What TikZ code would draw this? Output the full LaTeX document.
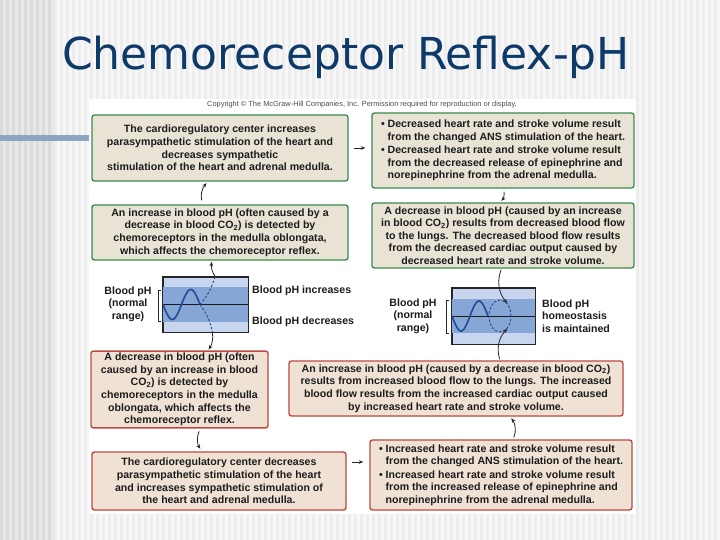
\documentclass[tikz,border=0pt]{standalone}
\usepackage{fontspec}
\setmainfont{Liberation Sans}
\newfontfamily\titlefont{DejaVu Sans}
\usepackage{tikz}
\usetikzlibrary{arrows.meta,shapes.geometric}
\usepackage{xcolor}
\definecolor{titleblue}{HTML}{0D3A68}
\definecolor{barblue}{HTML}{8EA5C2}
\definecolor{boxgreen}{HTML}{3D8B4F}
\definecolor{boxtan}{HTML}{E8E3D5}
\definecolor{boxred}{HTML}{BA4A42}
\definecolor{boxpink}{HTML}{EFE2D5}
\definecolor{inktext}{HTML}{1C1C1C}
\definecolor{phlight}{HTML}{C7D6EE}
\definecolor{phband}{HTML}{86A6D6}
\definecolor{phdeep}{HTML}{557CBB}
\definecolor{phwave}{HTML}{1E4C94}
\newcommand{\boxfont}{\fontsize{10.6}{12.6}\selectfont\bfseries}
\tikzset{
  greenbox/.style={draw=boxgreen,fill=boxtan,line width=1.4pt,rounded corners=2.5pt,align=center,
    font=\boxfont,text=inktext,inner sep=2pt},
  redbox/.style={greenbox,draw=boxred,fill=boxpink},
  listbox/.style={greenbox,align=left},
  graphbox/.style={draw=black!85,line width=0.9pt,fill=phlight,inner sep=0pt},
  graphlabel/.style={font=\boxfont,text=inktext,inner sep=0pt},
  flow/.style={-{Stealth[length=4.5pt,width=3.6pt]},draw=black!85,line width=0.8pt},
  wave/.style={draw=phwave,line width=1.6pt},
  phdash/.style={draw=phwave,line width=0.9pt,dash pattern=on 2.4pt off 1.8pt},
  midline/.style={draw=black!90,line width=1pt},
  normbracket/.style={draw=black!85,line width=0.8pt}
}

\begin{document}
\begin{tikzpicture}[x=1pt,y=-1pt]
        \useasboundingbox (0,0) rectangle (720,540);
        \fill[black!3] (0,0) rectangle (720,540);
        \fill[black!9] (0,0) rectangle (54,540);
        \foreach \sx in {0,6,...,714} {\fill[black!7] (\sx,0) rectangle +(3,540);}
        \foreach \sx in {0,6,...,48} {\fill[black!14] (\sx,0) rectangle +(3,540);}
        \fill[barblue] (0,135) rectangle (89,141);
        \fill[white] (89,99) rectangle (636,514);
        \node[font=\titlefont\fontsize{44}{44}\selectfont,text=titleblue,anchor=base west,inner sep=0pt] (title) at (62,70) {Chemoreceptor Reflex-pH};
        \node[font=\fontsize{7.4}{8}\selectfont,text=black!70,inner sep=0pt] (copyright) at (362,105) {Copyright © The McGraw-Hill Companies, Inc. Permission required for reproduction or display.};
        \node[greenbox,minimum width=256pt,minimum height=66pt] (cardinc) at (220,148) {The cardioregulatory center increases\\parasympathetic stimulation of the heart and\\decreases sympathetic\\stimulation of the heart and adrenal medulla.};
        \node[listbox,minimum width=262pt,minimum height=75pt] (ratedec) at (503,150.5) {\textbullet\ Decreased heart rate and stroke volume result\\\hphantom{\textbullet\ }from the changed ANS stimulation of the heart.\\[1pt]\textbullet\ Decreased heart rate and stroke volume result\\\hphantom{\textbullet\ }from the decreased release of epinephrine and\\\hphantom{\textbullet\ }norepinephrine from the adrenal medulla.};
        \node[greenbox,minimum width=256pt,minimum height=55pt] (sensehigh) at (220,232.5) {An increase in blood pH (often caused by a\\decrease in blood CO\textsubscript{2}) is detected by\\chemoreceptors in the medulla oblongata,\\which affects the chemoreceptor reflex.};
        \node[greenbox,minimum width=262pt,minimum height=65pt] (phfall) at (503,235.5) {A decrease in blood pH (caused by an increase\\in blood CO\textsubscript{2}) results from decreased blood flow\\to the lungs. The decreased blood flow results\\from the decreased cardiac output caused by\\decreased heart rate and stroke volume.};
        \node[redbox,minimum width=177pt,minimum height=75pt] (senselow) at (179.5,389.5) {A decrease in blood pH (often\\caused by an increase in blood\\CO\textsubscript{2}) is detected by\\chemoreceptors in the medulla\\oblongata, which affects the\\chemoreceptor reflex.};
        \node[redbox,minimum width=334pt,minimum height=55pt] (phrise) at (456,388.5) {An increase in blood pH (caused by a decrease in blood CO\textsubscript{2})\\results from increased blood flow to the lungs. The increased\\blood flow results from the increased cardiac output caused\\by increased heart rate and stroke volume.};
        \node[redbox,minimum width=254pt,minimum height=58pt] (carddec) at (219,481) {The cardioregulatory center decreases\\parasympathetic stimulation of the heart\\and increases sympathetic stimulation of\\the heart and adrenal medulla.};
        \node[listbox,draw=boxred,fill=boxpink,minimum width=262pt,minimum height=70pt] (rateinc) at (501,475) {\textbullet\ Increased heart rate and stroke volume result\\\hphantom{\textbullet\ }from the changed ANS stimulation of the heart.\\[1pt]\textbullet\ Increased heart rate and stroke volume result\\\hphantom{\textbullet\ }from the increased release of epinephrine and\\\hphantom{\textbullet\ }norepinephrine from the adrenal medulla.};
        \node[graphbox,minimum width=85pt,minimum height=55pt] (lgraph) at (205.5,304.5) {};
        \shade[top color=phband,middle color=phdeep,bottom color=phband] ([yshift=-11pt]lgraph.north west) rectangle (lgraph.east);
        \shade[top color=phband,middle color=phdeep,bottom color=phband] (lgraph.west) rectangle ([yshift=11pt]lgraph.south east);
        \draw[midline] (lgraph.west) -- (lgraph.east);
        \draw[wave] plot[domain=0:37,samples=60,smooth] ({163+\x},{304.5+15*sin(\x*360/37)});
        \coordinate (lcross) at (200,304.5);
        \draw[phdash] (lcross) to[bend right=12] ([xshift=9.5pt]lgraph.north);
        \draw[phdash] (lcross) to[bend left=12] ([xshift=7pt]lgraph.south);
        \draw[graphbox,fill=none] (lgraph.north west) rectangle (lgraph.south east);
        \node[graphbox,minimum width=83pt,minimum height=56pt] (rgraph) at (493.5,316) {};
        \shade[top color=phband,middle color=phdeep,bottom color=phband] ([yshift=-12pt]rgraph.north west) rectangle ([yshift=-1pt]rgraph.east);
        \shade[top color=phband,middle color=phdeep,bottom color=phband] ([yshift=1pt]rgraph.west) rectangle ([yshift=12pt]rgraph.south east);
        \draw[midline] (rgraph.west) -- (rgraph.east);
        \draw[wave] plot[domain=0:36,samples=60,smooth] ({452+\x},{316+15*sin(\x*360/36)});
        \node[phdash,ellipse,draw,minimum width=22pt,minimum height=32pt,inner sep=0pt] (steady) at (500,316) {};
        \draw[graphbox,fill=none] (rgraph.north west) rectangle (rgraph.south east);
        \node[graphlabel,align=center] (lnorm) at (128,304) {Blood pH\\(normal\\range)};
        \node[graphlabel,anchor=west] (lup) at (252,291) {Blood pH increases};
        \node[graphlabel,anchor=west] (ldown) at (252,322) {Blood pH decreases};
        \node[graphlabel,align=center] (rnorm) at (413,316) {Blood pH\\(normal\\range)};
        \node[graphlabel,align=left,anchor=west] (rkeep) at (542,316) {Blood pH\\homeostasis\\is maintained};
        \draw[normbracket] (161,290) -- (158,290) -- (158,321) -- (161,321);
        \draw[normbracket] (449,300) -- (446,300) -- (446,333) -- (449,333);
        \draw[flow,shorten <=5pt,shorten >=6pt] (cardinc.east) -- ([yshift=2.5pt]ratedec.west);
        \draw[flow,shorten <=4pt,shorten >=2pt] ([xshift=-17pt]sensehigh.north) to[bend left=30] ([xshift=-12pt]cardinc.south);
        \draw[flow,shorten <=3pt,shorten >=2pt] (ratedec.south) to[bend left=30] ([xshift=-3pt]phfall.north);
        \draw[flow,shorten <=1pt] ([xshift=-1.5pt]phfall.south) to[bend right=30] (steady.60);
        \draw[flow,shorten >=1pt] ([xshift=9.5pt]lgraph.north) to[bend left=20] ([xshift=-8pt]sensehigh.south);
        \draw[flow,shorten >=1pt] ([xshift=7pt]lgraph.south) to[bend left=20] ([xshift=28.5pt]senselow.north);
        \draw[flow,shorten <=3pt,shorten >=3pt] ([xshift=21pt]senselow.south) to[bend right=30] ([xshift=-17pt]carddec.north);
        \draw[flow,shorten <=5pt,shorten >=6pt] ([yshift=19pt]carddec.east) -- ([yshift=13pt]rateinc.west);
        \draw[flow,shorten <=2pt,shorten >=2pt] ([xshift=12pt]rateinc.north) to[bend right=30] ([xshift=54pt]phrise.south);
        \draw[flow,shorten <=1pt] ([xshift=44pt]phrise.north) to[bend left=30] (steady.-60);
      \end{tikzpicture}
\end{document}
